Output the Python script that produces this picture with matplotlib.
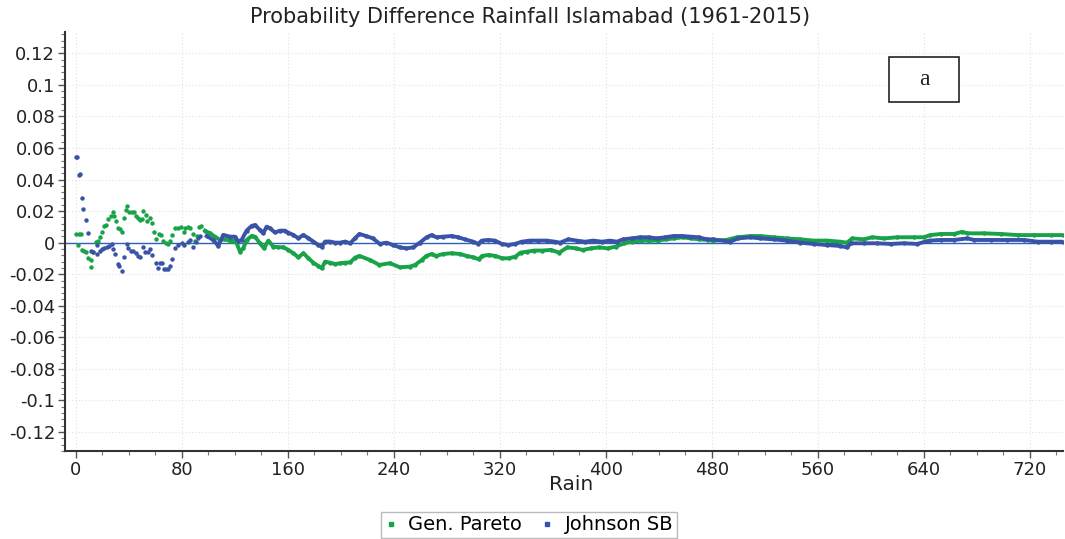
import numpy as np
import matplotlib.pyplot as plt
from matplotlib.lines import Line2D
from matplotlib.patches import Rectangle
from matplotlib.ticker import MultipleLocator

plt.rcParams['font.family'] = 'DejaVu Sans'
plt.rcParams['axes.unicode_minus'] = False

GREEN = '#19a349'
BLUE = '#3953a6'

# Gen. Pareto: probability difference vs rain
gp_rain = [0, 1.2, 2.3, 3.8, 4.8, 6.3, 7.8, 9.3, 11.0, 11.3, 13.0, 14.8, 16.8, 17.8,
           19.4, 21.4, 23.0, 24.4, 26.4, 27.7, 28.6, 30.0, 31.5, 33.0, 34.4, 36.0,
           37.4, 38.9, 40.2, 42.0, 44.0, 45.0, 46.5, 48.3, 49.6, 50.8, 52.7, 54.0,
           55.8, 57.5, 59.0, 60.7, 62.5, 64.5, 66.0, 68.0, 69.7, 71.2, 72.7, 74.7,
           77.0, 79.6, 81.3, 82.6, 84.6, 86.3, 88.3, 89.6, 91.3, 93.0, 94.7,
           97.4, 101.1, 104.9, 108.7, 112.5, 116.2, 118.7, 121.3, 123.8, 126.3,
           128.8, 132.6, 135.1, 138.9, 141.9, 145.2, 149.0, 152.7, 156.5, 160.3,
           164.1, 167.9, 171.7, 175.5, 179.2, 183.0, 185.5, 188.1, 191.8, 195.6,
           199.4, 203.2, 207.0, 210.7,
           214.0, 222.0, 229.0, 237.0, 244.5, 252.0, 256.0, 261.0, 264.6, 268.4,
           272.0, 277.0, 283.6, 290.0, 295.0, 300.0, 304.0, 306.6, 311.6, 316.6,
           321.7, 326.8, 331.8, 335.6, 340.7, 345.7, 352.0, 358.5, 364.8, 371.0,
           377.4, 382.4, 388.7, 395.0, 401.3, 407.6, 413.8, 420.0, 426.4, 432.7,
           439.0, 445.3, 451.6, 457.9, 464.2, 470.5, 476.8,
           481.0, 491.0, 499.0, 509.0, 516.6, 526.6, 536.7, 546.8, 556.8, 566.9,
           577.0, 582.0, 586.0, 594.7, 601.0, 609.8, 619.9, 632.5, 640.0, 645.0,
           652.7, 662.8, 669.0, 673.0, 685.6, 698.2, 710.8, 723.4, 736.0, 745.0]
gp_diff = [0.0053, -0.0015, 0.0053, 0.0053, -0.0046, -0.0055, -0.006, -0.0095, -0.0152,
           -0.011, -0.006, 0.0006, 0.0008, 0.0038, 0.0066, 0.0108, 0.0115, 0.015,
           0.0171, 0.0193, 0.0171, 0.0138, 0.0095, 0.0088, 0.0066, 0.0155, 0.0207,
           0.0234, 0.0197, 0.0195, 0.0195, 0.017, 0.0157, 0.0145, 0.015, 0.0203,
           0.0176, 0.0138, 0.0154, 0.0125, 0.0066, 0.0025, 0.0053, 0.005, 0.0008,
           -0.0002, -0.0008, 0.0008, 0.0048, 0.0091, 0.0093, 0.0098, 0.0066, 0.0093,
           0.0098, 0.0093, 0.0053, 0.0008, 0.004, 0.0098, 0.0108,
           0.0076, 0.006, 0.0038, 0.0017, 0.0021, 0.0013, 0.0013, -0.0004, -0.0057,
           -0.0036, 0.0017, 0.0042, 0.0038, -0.0004, -0.0036, 0.0013, -0.0025,
           -0.0029, -0.0029, -0.0046, -0.0067, -0.0093, -0.0067, -0.0099, -0.0127,
           -0.0148, -0.0162, -0.012, -0.0127, -0.0135, -0.0131, -0.0127, -0.0125,
           -0.0095,
           -0.0084, -0.011, -0.0141, -0.013, -0.0156, -0.0152, -0.0141, -0.011,
           -0.0084, -0.0072, -0.0084, -0.0072, -0.0067, -0.0072, -0.0084, -0.0093,
           -0.0105, -0.0084, -0.0078, -0.0084, -0.0099, -0.0099, -0.0088, -0.0063,
           -0.0057, -0.005, -0.005, -0.0046, -0.0063, -0.003, -0.0036, -0.0046,
           -0.0036, -0.003, -0.0036, -0.0025, -0.0004, 0.0006, 0.0013, 0.0013,
           0.0013, 0.0021, 0.0027, 0.0034, 0.0027, 0.0021, 0.0017,
           0.0013, 0.0017, 0.0034, 0.0042, 0.0042, 0.0034, 0.0027, 0.0021, 0.0013,
           0.0013, 0.0006, 0.0, 0.0027, 0.0021, 0.0034, 0.0027, 0.0034, 0.0034,
           0.0034, 0.0048, 0.0055, 0.0055, 0.0069, 0.0059, 0.0059, 0.0055, 0.0048,
           0.0048, 0.0048, 0.0048]

# Johnson SB: probability difference vs rain
jsb_rain = [0.0, 1.0, 2.3, 3.2, 4.8, 5.5, 7.5, 9.3, 11.3, 13.1, 15.6, 16.1, 18.1, 19.4,
            21.4, 23.1, 24.9, 26.9, 28.2, 29.4, 31.5, 32.5, 34.5, 36.0, 38.2, 39.5,
            41.3, 43.3, 45.0, 46.5, 48.5, 50.8, 52.1, 54.1, 55.8, 57.1, 60.1, 61.6,
            63.4, 64.7, 66.2, 67.9, 69.7, 70.9, 72.2, 74.7, 77.2, 79.7, 81.8, 84.3,
            86.0, 88.6, 90.3, 91.8, 93.6,
            98.7, 103.7, 107.4, 111.2, 116.2, 120.0, 122.5, 125.0, 128.8, 132.6,
            135.1, 138.9, 141.4, 143.9, 146.4, 150.2, 154.0, 157.7, 160.3, 164.1,
            167.9, 171.7, 175.5, 179.2, 183.0, 185.5, 188.1, 191.8, 195.6, 199.4,
            203.2, 207.0, 210.7,
            214.0, 219.2, 224.2, 229.4, 234.4, 239.4, 244.5, 249.5, 254.6, 259.6,
            264.7, 268.4, 272.2, 277.2, 283.5, 288.6, 293.6, 300.0, 303.7, 306.3,
            311.3, 316.3, 321.4, 326.4, 331.4, 336.5, 342.8, 349.0, 355.4, 361.6,
            365.4, 371.7, 378.0, 384.3, 390.6, 396.9, 403.2, 408.2, 413.2, 419.5,
            425.8, 432.2, 438.5, 444.8, 451.1, 457.4, 463.7, 470.0, 476.3,
            481.0, 493.6, 500.0, 509.0, 516.6, 526.6, 536.7, 546.8, 556.8, 566.9,
            577.0, 582.0, 585.0, 594.7, 604.8, 614.9, 625.0, 635.0, 644.0, 652.7,
            662.8, 673.0, 678.0, 690.6, 703.0, 715.8, 726.0, 736.0, 745.0]
jsb_diff = [0.0545, 0.054, 0.0429, 0.0432, 0.0285, 0.0214, 0.0146, 0.006, -0.0053,
            -0.0057, -0.0074, -0.0015, -0.0053, -0.004, -0.0036, -0.0025, -0.0019,
            -0.001, -0.004, -0.0074, -0.0137, -0.0146, -0.0179, -0.0089, -0.001,
            -0.0036, -0.0053, -0.0053, -0.0067, -0.0086, -0.0088, -0.0025, -0.0057,
            -0.0062, -0.004, -0.0078, -0.0129, -0.0158, -0.0129, -0.0129, -0.0167,
            -0.0167, -0.0167, -0.0146, -0.0103, -0.0036, -0.0015, -0.0004, -0.0015,
            0.0002, 0.0017, -0.0025, 0.0005, 0.0028, 0.0044,
            0.0042, 0.0017, -0.002, 0.0049, 0.0038, 0.0038, 0.0008, 0.0017, 0.0076,
            0.0106, 0.0112, 0.008, 0.006, 0.0101, 0.0091, 0.0065, 0.0076, 0.0076,
            0.0063, 0.0049, 0.0028, 0.0049, 0.0028, 0.0007, -0.0015, -0.0025, 0.0007,
            0.0007, 0.0, 0.0, 0.0007, -0.0004, 0.0028,
            0.0055, 0.0042, 0.0027, -0.0008, 0.0, -0.0015, -0.003, -0.0036, -0.003,
            0.0, 0.0034, 0.0048, 0.0034, 0.0038, 0.0042, 0.0034, 0.0021, 0.0006,
            -0.0008, 0.0013, 0.0017, 0.0013, -0.0008, -0.0015, -0.0008, 0.0006,
            0.0013, 0.0013, 0.0013, 0.0006, 0.0, 0.0021, 0.0013, 0.0006, 0.0013,
            0.0006, 0.0013, 0.0006, 0.0021, 0.0027, 0.0034, 0.0034, 0.0027, 0.0034,
            0.0042, 0.0042, 0.0038, 0.0034, 0.0021,
            0.0021, 0.0006, 0.0027, 0.0034, 0.0027, 0.0021, 0.0013, 0.0, -0.0008,
            -0.0015, -0.0021, -0.003, -0.0004, -0.0004, -0.0004, -0.0008, -0.0004,
            -0.0008, 0.0013, 0.0017, 0.0017, 0.0027, 0.0017, 0.0017, 0.0017, 0.0017,
            0.0006, 0.0006, 0.0006]

x_ticks = list(range(0, 721, 80))
y_ticks = [-0.12, -0.1, -0.08, -0.06, -0.04, -0.02, 0, 0.02, 0.04, 0.06, 0.08, 0.1, 0.12]
y_labels = ['-0.12', '-0.1', '-0.08', '-0.06', '-0.04', '-0.02', '0',
            '0.02', '0.04', '0.06', '0.08', '0.1', '0.12']

fig = plt.figure(figsize=(10.65, 5.39), dpi=100)
ax = fig.add_axes([0.061, 0.1633, 0.937, 0.7774])

# zero reference line
ax.axhline(0, color='#2f5fc0', lw=1.0, zorder=2)


def draw_series(rain, diff, color):
    rain = np.asarray(rain)
    diff = np.asarray(diff)
    ax.plot(rain, diff, ls='none', marker='o', ms=3.2, color=color, mec='none', zorder=3)
    # later points are packed so tight they read as a band
    dense = rain >= 95
    ax.plot(rain[dense], diff[dense], '-', lw=2.8, color=color, zorder=3)


draw_series(gp_rain, gp_diff, GREEN)
draw_series(jsb_rain, jsb_diff, BLUE)

ax.set_xlim(-8.3, 745)
ax.set_ylim(-0.132, 0.1335)
ax.set_xticks(x_ticks)
ax.set_yticks(y_ticks)
ax.set_yticklabels(y_labels)
ax.xaxis.set_minor_locator(MultipleLocator(20))
ax.yaxis.set_minor_locator(MultipleLocator(0.004))

ax.grid(True, which='major', color='#e2e2e2', linestyle=(0, (1, 2)), lw=0.8)
ax.set_axisbelow(True)

for side in ['top', 'right']:
    ax.spines[side].set_visible(False)
for side in ['left', 'bottom']:
    ax.spines[side].set_color('#333333')
    ax.spines[side].set_linewidth(1.5)

ax.tick_params(which='major', direction='out', length=5, width=1, colors='#555555',
               labelsize=13, labelcolor='#222222', pad=2)
ax.tick_params(which='minor', direction='out', length=3, width=0.8, colors='#777777')

fig.text(0.4977, 0.968, 'Probability Difference Rainfall Islamabad (1961-2015)',
         ha='center', va='center', fontsize=15, color='#222222')
fig.text(0.536, 0.1002, 'Rain', ha='center', va='center', fontsize=14.5, color='#222222')

# panel tag box
ax.add_patch(Rectangle((0.8257, 0.833), 0.0701, 0.1074, transform=ax.transAxes,
                       facecolor='white', edgecolor='#222222', lw=1.2, zorder=5))
ax.text(0.861, 0.886, 'a', transform=ax.transAxes, ha='center', va='center',
        family='Liberation Serif', fontsize=17, color='#222222', zorder=6)

handles = [Line2D([], [], ls='none', marker='s', ms=2.5, color=GREEN, label='Gen. Pareto'),
           Line2D([], [], ls='none', marker='s', ms=2.5, color=BLUE, label='Johnson SB')]
leg = fig.legend(handles=handles, loc='center', bbox_to_anchor=(0.497, 0.026), ncol=2,
                 frameon=True, fancybox=False, edgecolor='#aaaaaa', fontsize=14,
                 handlelength=0.6, handletextpad=0.6, columnspacing=1.0, borderpad=0.2)
leg.get_frame().set_linewidth(1.0)

fig.savefig('out.png', dpi=100)
